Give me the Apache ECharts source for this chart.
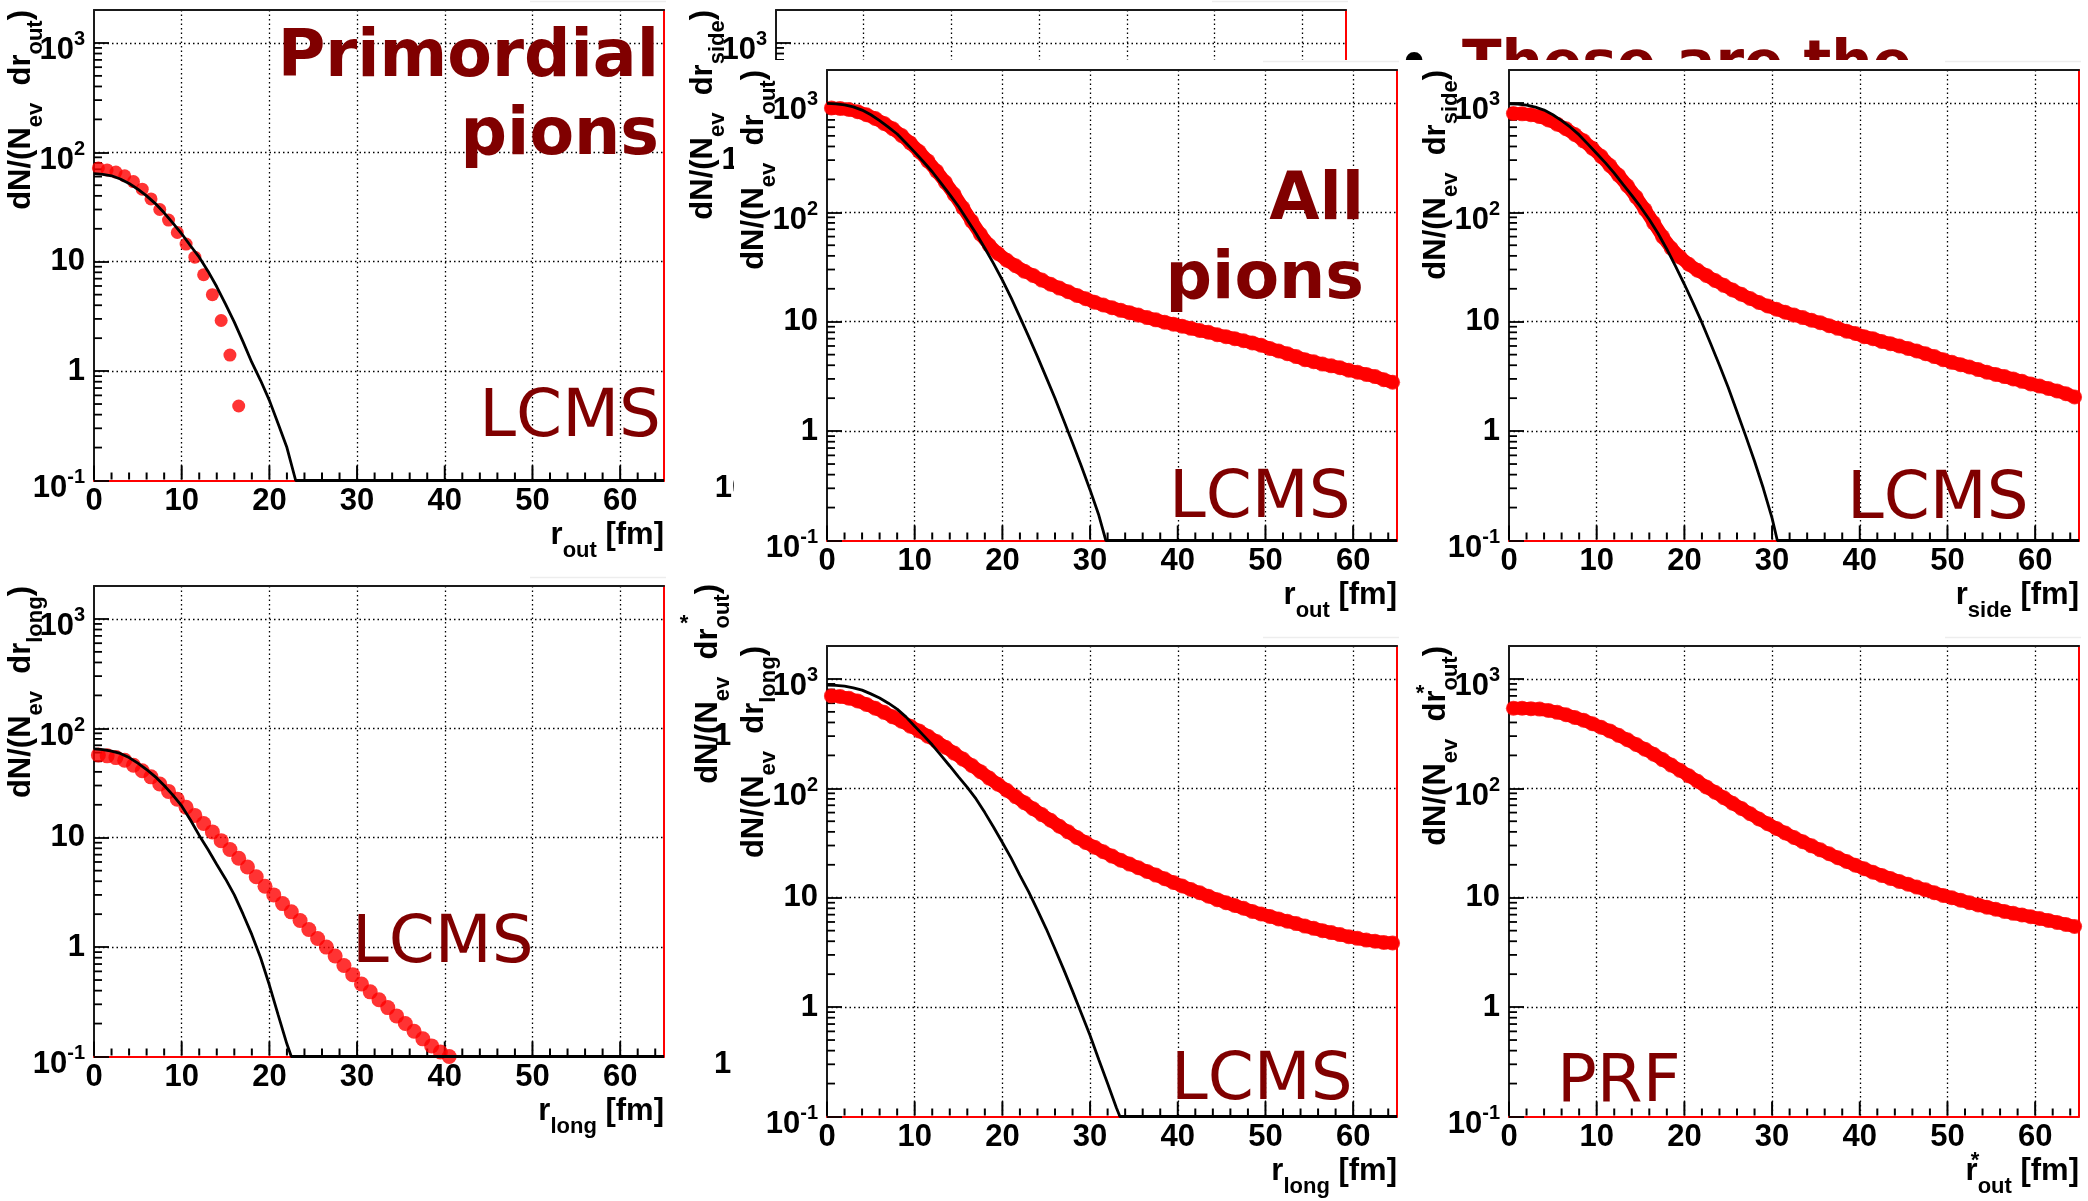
<!DOCTYPE html>
<html>
<head>
<meta charset="utf-8">
<script src="https://cdn.jsdelivr.net/npm/echarts@6/dist/echarts.min.js"></script>
<style>
  html, body { margin: 0; padding: 0; background: #fff; }
  #chart { width: 2088px; height: 1201px; }
</style>
</head>
<body>
<div id="chart"></div>
<script>
// ---- axis ranges and tick labels ----
const X_MIN = 0, X_MAX = 65;
const Y_MIN = 0.1, Y_MAX = 2000;
const X_MAJOR = 10, X_MINOR = 2;
const xTickValues = [0, 10, 20, 30, 40, 50, 60];
const xTickLabels = ['0', '10', '20', '30', '40', '50', '60'];
const yTickValues = [0.1, 1, 10, 100, 1000];
const yTickLabels = [['10', '-1'], ['1', ''], ['10', ''], ['10', '2'], ['10', '3']];
const minorMantissas = [2, 3, 4, 5, 6, 7, 8, 9];

// ---- red markers: one value per 1 fm bin, first bin centred at 0.5 fm ----
const BIN_WIDTH = 1;
const primordialOutRed = [72, 69, 66, 61, 54, 46, 37.5, 30, 24, 18.5, 14.5, 11, 7.6, 5.0, 2.9, 1.4, 0.48];
const allOutRed = [900, 890, 870, 830, 780, 720, 650, 580, 505, 430, 360, 295, 238, 188, 146, 110, 83, 63, 50, 42,
  36.5, 32.5, 29, 26.5, 24, 22, 20.3, 18.8, 17.4, 16.2, 15.1, 14.2, 13.4, 12.7, 12.1, 11.5, 10.9, 10.4, 9.9, 9.5,
  9.1, 8.7, 8.3, 8.0, 7.6, 7.3, 7.0, 6.7, 6.4, 6.1, 5.7, 5.4, 5.1, 4.8, 4.5, 4.3, 4.1, 3.95, 3.8, 3.6,
  3.45, 3.3, 3.15, 2.95, 2.8];
const allSideRed = [800, 795, 780, 750, 700, 640, 580, 515, 450, 385, 325, 268, 218, 175, 138, 106, 80, 60, 47, 39,
  33.5, 29.5, 26.5, 23.8, 21.5, 19.5, 17.8, 16.3, 15, 13.9, 13.0, 12.2, 11.5, 10.9, 10.3, 9.8, 9.2, 8.7, 8.2, 7.8,
  7.3, 7.0, 6.6, 6.3, 6.0, 5.7, 5.4, 5.1, 4.8, 4.5, 4.25, 4.05, 3.85, 3.65, 3.45, 3.3, 3.15, 3.0, 2.85, 2.7,
  2.58, 2.45, 2.33, 2.2, 2.05];
const primordialLongRed = [57, 56, 54, 51, 46, 41, 36, 31, 26.5, 22.5, 19, 16, 13.5, 11.3, 9.4, 7.8, 6.5, 5.4, 4.4, 3.6,
  3.0, 2.5, 2.1, 1.75, 1.45, 1.2, 1.0, 0.83, 0.68, 0.56, 0.46, 0.39, 0.33, 0.28, 0.235, 0.2, 0.17, 0.145, 0.125, 0.11, 0.1];
const allLongRed = [700, 690, 665, 630, 585, 540, 495, 450, 410, 370, 335, 300, 268, 238, 210, 185, 162, 142, 124, 109,
  96, 84, 74, 65, 57.5, 51, 45, 40, 35.5, 32, 29, 26.3, 24, 22, 20.3, 18.8, 17.4, 16.1, 14.9, 13.8,
  12.8, 11.9, 11.1, 10.3, 9.6, 9.0, 8.5, 8.0, 7.5, 7.1, 6.75, 6.4, 6.1, 5.8, 5.5, 5.25, 5.0, 4.8, 4.6, 4.4,
  4.25, 4.1, 4.0, 3.9, 3.85];
const prfOutRed = [540, 540, 535, 530, 515, 495, 470, 445, 420, 390, 362, 335, 305, 278, 252, 228, 205, 183, 163, 146,
  130, 116, 103, 92, 82, 73, 65.5, 58.5, 52.5, 47.5, 43, 39, 35.5, 32.5, 29.8, 27.4, 25.2, 23.2, 21.4, 19.8,
  18.4, 17.1, 16, 15, 14.1, 13.3, 12.5, 11.8, 11.1, 10.5, 10, 9.5, 9.0, 8.6, 8.2, 7.85, 7.5, 7.2, 6.95, 6.7,
  6.45, 6.2, 5.95, 5.7, 5.45];

// ---- black reference curves: [r (fm), dN/dr] until they reach the frame floor ----
const primordialOutBlack = [[0, 64], [1, 63], [2, 61], [3, 57], [4, 52], [5, 46], [6, 40], [7, 34], [8, 28], [9, 22.5],
  [10, 18], [11, 14], [12, 11], [13, 8.2], [14, 5.9], [15, 4.1], [16, 2.8], [17, 1.85], [18, 1.2], [19, 0.82],
  [20, 0.54], [21, 0.33], [22, 0.2], [23, 0.1]];
const allOutBlack = [[0, 990], [1, 980], [2, 960], [3, 920], [4, 860], [5, 780], [6, 690], [7, 600], [8, 520], [9, 430],
  [10, 355], [11, 290], [12, 235], [13, 185], [14, 145], [15, 113], [16, 85], [17, 64], [18, 47], [19, 34],
  [20, 24], [21, 16.5], [22, 11], [23, 7.3], [24, 4.8], [25, 3.1], [26, 2.0], [27, 1.25], [28, 0.78], [29, 0.48],
  [30, 0.29], [31, 0.17], [31.8, 0.1]];
const allSideBlack = [[0, 980], [1, 975], [2, 955], [3, 915], [4, 860], [5, 780], [6, 690], [7, 600], [8, 510], [9, 420],
  [10, 345], [11, 283], [12, 228], [13, 180], [14, 143], [15, 112], [16, 86], [17, 64], [18, 46], [19, 32],
  [20, 22], [21, 14.8], [22, 9.8], [23, 6.3], [24, 4.0], [25, 2.5], [26, 1.5], [27, 0.9], [28, 0.53], [29, 0.3],
  [30, 0.16], [30.6, 0.1]];
const primordialLongBlack = [[0, 65], [1, 64], [2, 62], [3, 59], [4, 54], [5, 48], [6, 42], [7, 36], [8, 30], [9, 24.5],
  [10, 19.5], [11, 14.5], [12, 10.5], [13, 7.8], [14, 5.7], [15, 4.2], [16, 3.0], [17, 2.0], [18, 1.3], [19, 0.8],
  [20, 0.45], [21, 0.24], [22, 0.13], [22.5, 0.1]];
const allLongBlack = [[0, 880], [1, 875], [2, 860], [3, 830], [4, 790], [5, 730], [6, 670], [7, 600], [8, 530], [9, 450],
  [10, 370], [11, 305], [12, 250], [13, 200], [14, 160], [15, 127], [16, 102], [17, 80], [18, 60], [19, 44],
  [20, 32], [21, 23], [22, 16], [23, 11.3], [24, 7.7], [25, 5.2], [26, 3.4], [27, 2.2], [28, 1.4], [29, 0.88],
  [30, 0.55], [31, 0.33], [32, 0.2], [33, 0.12], [33.4, 0.1]];

// ---- page geometry ----
const PANEL_W = 570, PANEL_H = 470.5;
const LAYOUT = {
  sideHidden: { left: 776, top: 10 },
  primOut:    { left: 94,  top: 10 },
  allOut:     { left: 827, top: 70 },
  allSide:    { left: 1509, top: 70 },
  primLong:   { left: 94,  top: 586 },
  allLong:    { left: 827, top: 646 },
  prfOut:     { left: 1509, top: 646 }
};

const LABEL_FONT = '"Liberation Sans", Arial, Helvetica, sans-serif';
const SLIDE_FONT = '"DejaVu Sans", Verdana, sans-serif';
const MAROON = '#800000';
const RED = '#ff0000';
const FRAME = '#1a1a1a';
const DOTS = { color: '#000', width: 1.3, type: [1.5, 3] };

const grids = [], xAxes = [], yAxes = [], series = [], graphics = [];

// tick positions along the frame edges
const yMinorTicks = [];
for (let e = -1; e <= 3; e++) {
  minorMantissas.forEach(m => {
    const v = m * Math.pow(10, e);
    if (v < Y_MAX) yMinorTicks.push(v);
  });
}
const xFrameTicks = [];
for (let x = X_MIN; x < X_MAX; x += X_MINOR) xFrameTicks.push(x);

function yLabel(v) {
  const i = yTickValues.findIndex(t => Math.abs(Math.log10(v / t)) < 1e-6);
  if (i < 0) return '';
  const [base, exp] = yTickLabels[i];
  return exp ? `{b|${base}}{s|${exp}}` : `{p|${base}}`;
}
function xLabel(v) {
  const i = xTickValues.indexOf(v);
  return i < 0 ? '' : xTickLabels[i];
}

const TITLE_RICH = {
  b: { fontSize: 31, fontWeight: 'bold', fontFamily: LABEL_FONT, fill: '#000' },
  s: { fontSize: 22, fontWeight: 'bold', fontFamily: LABEL_FONT, fill: '#000', padding: [30, 0, 0, 0] }
};

function yTitle(cx, top, sub, z) {
  return {
    type: 'text', x: cx, y: top, rotation: Math.PI / 2, z: z, silent: true,
    style: { text: `{b|dN/(N}{s|ev}{b|  dr}{s|${sub}}{b|)}`, rich: TITLE_RICH, align: 'right', verticalAlign: 'middle' }
  };
}
function xTitle(right, cy, sub, z) {
  return {
    type: 'text', x: right, y: cy, z: z, silent: true,
    style: { text: `{b|r}{s|${sub}}{b| [fm]}`, rich: TITLE_RICH, align: 'right', verticalAlign: 'middle' }
  };
}
function plainText(x, y, str, size, weight, family, color, align, z) {
  return {
    type: 'text', x: x, y: y, z: z, silent: true,
    style: { text: str, fontSize: size, fontWeight: weight, fontFamily: family, fill: color, align: align, verticalAlign: 'middle' }
  };
}

function addPanel(p) {
  const gi = grids.length;
  const xi = xAxes.length, yi = yAxes.length;
  const z = p.z;
  grids.push({ left: p.pos.left, top: p.pos.top, width: PANEL_W, height: PANEL_H, show: false,
    containLabel: false, outerBoundsMode: 'none' });

  // bottom axis with labels
  xAxes.push({ gridIndex: gi, type: 'value', min: X_MIN, max: X_MAX, interval: X_MAJOR, position: 'bottom', z: z,
    axisLine: { show: true, onZero: false, lineStyle: { color: RED, width: 2 } },
    axisTick: { show: false },
    axisLabel: { show: true, margin: 5, color: '#000', fontFamily: LABEL_FONT, fontWeight: 'bold', fontSize: 31,
      showMaxLabel: false, formatter: xLabel },
    splitLine: { show: true, showMinLine: false, showMaxLine: false, lineStyle: DOTS } });
  // top edge of the frame
  xAxes.push({ gridIndex: gi, type: 'value', min: X_MIN, max: X_MAX, position: 'top', z: z,
    axisLine: { show: true, onZero: false, lineStyle: { color: FRAME, width: 2 } },
    axisTick: { show: false }, axisLabel: { show: false }, splitLine: { show: false } });

  yAxes.push({ gridIndex: gi, type: 'log', logBase: 10, min: Y_MIN, max: Y_MAX, position: 'left', z: z,
    axisLine: { show: true, onZero: false, lineStyle: { color: FRAME, width: 2 } },
    axisTick: { show: true, inside: true, length: 15, lineStyle: { color: '#000', width: 1.8 } },
    axisLabel: { show: true, margin: 9, showMaxLabel: false, formatter: yLabel,
      rich: {
        b: { fontSize: 31, fontWeight: 'bold', fontFamily: LABEL_FONT, color: '#000', padding: [16, 0, 0, 0] },
        s: { fontSize: 20, fontWeight: 'bold', fontFamily: LABEL_FONT, color: '#000', padding: [0, 0, 6, 0] },
        p: { fontSize: 31, fontWeight: 'bold', fontFamily: LABEL_FONT, color: '#000' }
      } },
    splitLine: { show: true, showMinLine: false, showMaxLine: false, lineStyle: DOTS } });
  // right edge of the frame
  yAxes.push({ gridIndex: gi, type: 'log', logBase: 10, min: Y_MIN, max: Y_MAX, position: 'right', z: z,
    axisLine: { show: true, onZero: false, lineStyle: { color: RED, width: 2 } },
    axisTick: { show: false }, axisLabel: { show: false }, splitLine: { show: false } });

  // logarithmic minor ticks on the left edge
  series.push({ type: 'custom', xAxisIndex: xi, yAxisIndex: yi, z: z + 1, silent: true, clip: false, animation: false,
    data: yMinorTicks.map(v => [X_MIN, v]),
    renderItem: (params, api) => {
      const pt = api.coord([api.value(0), api.value(1)]);
      return { type: 'line', shape: { x1: pt[0], y1: pt[1], x2: pt[0] + 8, y2: pt[1] },
        style: { stroke: '#000', lineWidth: 1.8 } };
    } });
  // major and minor ticks on the bottom edge
  series.push({ type: 'custom', xAxisIndex: xi, yAxisIndex: yi, z: z + 1, silent: true, clip: false, animation: false,
    data: xFrameTicks.map(x => [x, Y_MIN]),
    renderItem: (params, api) => {
      const x = api.value(0);
      const pt = api.coord([x, api.value(1)]);
      const len = (x % X_MAJOR === 0) ? 14 : 7;
      return { type: 'line', shape: { x1: pt[0], y1: pt[1] - 1, x2: pt[0], y2: pt[1] - 1 - len },
        style: { stroke: '#000', lineWidth: 2 } };
    } });

  if (p.red) {
    const pts = p.red.map((v, i) => [(i + 0.5) * BIN_WIDTH, v]);
    if (p.band) {
      // densely packed markers merge into a continuous band
      series.push({ type: 'line', xAxisIndex: xi, yAxisIndex: yi, z: z + 2, silent: true, animation: false,
        showSymbol: false, symbol: 'none', lineStyle: { color: RED, width: 13, cap: 'round', join: 'round' },
        data: pts });
    }
    series.push({ type: 'scatter', xAxisIndex: xi, yAxisIndex: yi, z: z + 2, silent: true, animation: false,
      symbol: 'circle', symbolSize: p.markerSize, itemStyle: { color: RED }, data: pts });
  }
  if (p.black) {
    // empty bins of the reference histogram sit on the frame floor
    series.push({ type: 'line', xAxisIndex: xi, yAxisIndex: yi, z: z + 3, silent: true, animation: false,
      showSymbol: false, symbol: 'none', lineStyle: { color: '#000', width: 2.8 },
      data: p.black.concat([[X_MAX, Y_MIN]]) });
  }

  const right = p.pos.left + PANEL_W;
  const bottom = p.pos.top + PANEL_H;
  graphics.push(yTitle(p.pos.left - 73, p.pos.top, p.ySub, p.textZ));
  graphics.push(xTitle(right, bottom + 55, p.xSub, p.textZ));
  // thin edge of the pad above the frame
  graphics.push({ type: 'line', z: p.textZ, silent: true,
    shape: { x1: right - 134, y1: p.pos.top - 8.5, x2: right + 2, y2: p.pos.top - 8.5 },
    style: { stroke: '#ededed', lineWidth: 1.5 } });
}

// ---- slide text lying underneath the top-right pads ----
graphics.push(plainText(1462, 66.5, 'These are the', 58, 'bold', SLIDE_FONT, MAROON, 'left', 1));
graphics.push(plainText(1397, 66.5, '\u2022', 58, 'normal', SLIDE_FONT, '#000', 'left', 1));

// ---- pad hidden behind the middle-top pad ----
addPanel({ pos: LAYOUT.sideHidden, z: 0, textZ: 2, ySub: 'side', xSub: 'side', red: null, black: null });

// white pads stacked on top
graphics.push({ type: 'rect', z: 3, silent: true, shape: { x: 734, y: 60, width: 666, height: 515 }, style: { fill: '#fff' } });
graphics.push({ type: 'rect', z: 3, silent: true, shape: { x: 1399, y: 60, width: 689, height: 515 }, style: { fill: '#fff' } });

addPanel({ pos: LAYOUT.primOut, z: 4, textZ: 9, ySub: 'out', xSub: 'out', red: primordialOutRed, black: primordialOutBlack, markerSize: 13, band: false });
addPanel({ pos: LAYOUT.allOut, z: 4, textZ: 9, ySub: 'out', xSub: 'out', red: allOutRed, black: allOutBlack, markerSize: 15, band: true });
addPanel({ pos: LAYOUT.allSide, z: 4, textZ: 9, ySub: 'side', xSub: 'side', red: allSideRed, black: allSideBlack, markerSize: 15, band: true });
addPanel({ pos: LAYOUT.primLong, z: 4, textZ: 9, ySub: 'long', xSub: 'long', red: primordialLongRed, black: primordialLongBlack, markerSize: 15, band: false });
addPanel({ pos: LAYOUT.allLong, z: 4, textZ: 9, ySub: 'long', xSub: 'long', red: allLongRed, black: allLongBlack, markerSize: 15, band: true });
addPanel({ pos: LAYOUT.prfOut, z: 4, textZ: 9, ySub: 'out', xSub: 'out', red: prfOutRed, black: null, markerSize: 15, band: true });

// remnants of the pad hidden behind the middle-bottom pad
graphics.push(yTitle(708, 584, 'out', 9));
graphics.push(plainText(684, 624, '*', 22, 'bold', LABEL_FONT, '#000', 'center', 9));
graphics.push(plainText(714, 736, '1', 31, 'bold', LABEL_FONT, '#000', 'left', 9));
graphics.push(plainText(714, 1064, '1', 31, 'bold', LABEL_FONT, '#000', 'left', 9));
// starred PRF coordinate
graphics.push(plainText(1420, 694, '*', 22, 'bold', LABEL_FONT, '#000', 'center', 9));
graphics.push(plainText(1975, 1161, '*', 22, 'bold', LABEL_FONT, '#000', 'center', 9));

// ---- panel annotations ----
graphics.push(plainText(659, 59, 'Primordial', 65, 'bold', SLIDE_FONT, MAROON, 'right', 10));
graphics.push(plainText(659, 137, 'pions', 65, 'bold', SLIDE_FONT, MAROON, 'right', 10));
graphics.push(plainText(1364, 202, 'All', 65, 'bold', SLIDE_FONT, MAROON, 'right', 10));
graphics.push(plainText(1364, 281, 'pions', 65, 'bold', SLIDE_FONT, MAROON, 'right', 10));
graphics.push(plainText(661, 419, 'LCMS', 66, 'normal', SLIDE_FONT, MAROON, 'right', 10));
graphics.push(plainText(1169, 500, 'LCMS', 66, 'normal', SLIDE_FONT, MAROON, 'left', 10));
graphics.push(plainText(1847, 501, 'LCMS', 66, 'normal', SLIDE_FONT, MAROON, 'left', 10));
graphics.push(plainText(352, 945, 'LCMS', 66, 'normal', SLIDE_FONT, MAROON, 'left', 10));
graphics.push(plainText(1171, 1082, 'LCMS', 66, 'normal', SLIDE_FONT, MAROON, 'left', 10));
graphics.push(plainText(1557, 1084, 'PRF', 66, 'normal', SLIDE_FONT, MAROON, 'left', 10));

const chart = echarts.init(document.getElementById('chart'), null, { renderer: 'canvas', width: 2088, height: 1201 });
chart.setOption({
  animation: false,
  backgroundColor: '#fff',
  grid: grids,
  xAxis: xAxes,
  yAxis: yAxes,
  series: series,
  graphic: { elements: graphics }
});
</script>
</body>
</html>
